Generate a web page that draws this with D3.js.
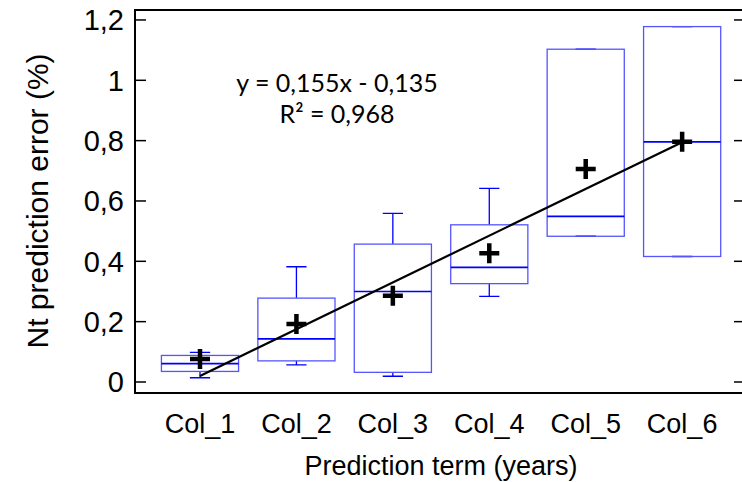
<!DOCTYPE html>
<html>
<head>
<meta charset="utf-8">
<script src="https://cdn.jsdelivr.net/npm/d3@7"></script>
<style>
  body { margin: 0; background: #fff; }
  #stage { width: 742px; height: 482px; }
</style>
</head>
<body>
<div id="stage"></div>
<script>
// data
const categories = ["Col_1", "Col_2", "Col_3", "Col_4", "Col_5", "Col_6"];
const whiskerLow = [0.014, 0.057, 0.019, 0.284, 0.483, 0.416];
const q1 = [0.035, 0.070, 0.032, 0.326, 0.483, 0.416];
const medians = [0.061, 0.143, 0.300, 0.380, 0.549, 0.796];
const q3 = [0.088, 0.278, 0.457, 0.521, 1.103, 1.178];
const whiskerHigh = [0.098, 0.382, 0.559, 0.642, 1.103, 1.178];
const means = [0.076, 0.192, 0.286, 0.427, 0.706, 0.796];
const yTicks = [0, 0.2, 0.4, 0.6, 0.8, 1, 1.2];
const yTickLabels = ["0", "0,2", "0,4", "0,6", "0,8", "1", "1,2"];
const trendSlope = 0.155;
const trendIntercept = -0.135;
const equationLines = ["y = 0,155x - 0,135", "R² = 0,968"];

const boxes = categories.map((c, i) => ({
  name: c,
  idx: i + 1,
  lo: whiskerLow[i],
  q1: q1[i],
  med: medians[i],
  q3: q3[i],
  hi: whiskerHigh[i],
  mean: means[i],
}));

const width = 742;
const height = 482;

const svg = d3
  .select("#stage")
  .append("svg")
  .attr("width", width)
  .attr("height", height);

const plotLeft = 135;
const plotRight = 745;
const plotTop = 10;
const plotBottom = 393;

const x = d3.scaleLinear().domain([0.326, 6.6]).range([plotLeft, 740]);
const y = d3.scaleLinear().domain([-0.0365, 1.233]).range([plotBottom, plotTop]);

const boxW = x(1.8) - x(1);
const capW = x(1.105) - x(1);

// frame
svg
  .append("rect")
  .attr("x", plotLeft)
  .attr("y", plotTop)
  .attr("width", plotRight - plotLeft)
  .attr("height", plotBottom - plotTop)
  .attr("fill", "none")
  .attr("stroke", "#000")
  .attr("stroke-width", 2);

// y ticks, inward on both sides
const tickLen = 11;
svg
  .selectAll(".ytick-l")
  .data(yTicks)
  .join("line")
  .attr("x1", plotLeft)
  .attr("x2", plotLeft + tickLen)
  .attr("y1", (d) => y(d))
  .attr("y2", (d) => y(d))
  .attr("stroke", "#000")
  .attr("stroke-width", 1.5);

svg
  .selectAll(".ytick-r")
  .data(yTicks)
  .join("line")
  .attr("x1", plotRight)
  .attr("x2", plotRight - tickLen)
  .attr("y1", (d) => y(d))
  .attr("y2", (d) => y(d))
  .attr("stroke", "#000")
  .attr("stroke-width", 1.5);

svg
  .selectAll(".ylab")
  .data(yTicks)
  .join("text")
  .attr("x", plotLeft - 11)
  .attr("y", (d) => y(d))
  .attr("dy", "0.36em")
  .attr("text-anchor", "end")
  .attr("font-family", "'Liberation Sans', Arial, sans-serif")
  .attr("font-size", "29px")
  .attr("fill", "#000")
  .text((d, i) => yTickLabels[i]);

svg
  .selectAll(".xlab")
  .data(boxes)
  .join("text")
  .attr("x", (d) => x(d.idx))
  .attr("y", 433)
  .attr("text-anchor", "middle")
  .attr("font-family", "'Liberation Sans', Arial, sans-serif")
  .attr("font-size", "27px")
  .attr("fill", "#000")
  .text((d) => d.name);

svg
  .append("text")
  .attr("x", (x(1) + x(6)) / 2)
  .attr("y", 475)
  .attr("text-anchor", "middle")
  .attr("font-family", "'Liberation Sans', Arial, sans-serif")
  .attr("font-size", "27px")
  .attr("fill", "#000")
  .text("Prediction term (years)");

svg
  .append("text")
  .attr("transform", `translate(48, ${(y(0) + y(1.2)) / 2}) rotate(-90)`)
  .attr("text-anchor", "middle")
  .attr("font-family", "'Liberation Sans', Arial, sans-serif")
  .attr("font-size", "30px")
  .attr("fill", "#000")
  .text("Nt prediction error (%)");

// box plots
const g = svg.append("g");

g.selectAll(".whisker")
  .data(boxes)
  .join("path")
  .attr("d", (d) =>
    `M${x(d.idx)},${y(d.q3)}V${y(d.hi)}M${x(d.idx)},${y(d.q1)}V${y(d.lo)}` +
    `M${x(d.idx) - capW},${y(d.hi)}H${x(d.idx) + capW}` +
    `M${x(d.idx) - capW},${y(d.lo)}H${x(d.idx) + capW}`
  )
  .attr("fill", "none")
  .attr("stroke", "#0000ff")
  .attr("stroke-width", 1.3);

g.selectAll(".box")
  .data(boxes)
  .join("rect")
  .attr("x", (d) => x(d.idx) - boxW / 2)
  .attr("y", (d) => y(d.q3))
  .attr("width", boxW)
  .attr("height", (d) => y(d.q1) - y(d.q3))
  .attr("fill", "none")
  .attr("stroke", "#5555ff")
  .attr("stroke-width", 1.3);

g.selectAll(".median")
  .data(boxes)
  .join("line")
  .attr("x1", (d) => x(d.idx) - boxW / 2)
  .attr("x2", (d) => x(d.idx) + boxW / 2)
  .attr("y1", (d) => y(d.med))
  .attr("y2", (d) => y(d.med))
  .attr("stroke", "#0000ff")
  .attr("stroke-width", 1.6);

// trend line
svg
  .append("line")
  .attr("x1", x(1))
  .attr("y1", y(trendSlope * 1 + trendIntercept))
  .attr("x2", x(6))
  .attr("y2", y(trendSlope * 6 + trendIntercept))
  .attr("stroke", "#000")
  .attr("stroke-width", 2.2);

// mean markers
svg
  .selectAll(".mean")
  .data(boxes)
  .join("path")
  .attr("d", (d) => {
    const cx = x(d.idx);
    const cy = y(d.mean);
    return `M${cx - 10},${cy}H${cx + 10}M${cx},${cy - 10}V${cy + 10}`;
  })
  .attr("stroke", "#000")
  .attr("stroke-width", 4.5);

// equation
svg
  .selectAll(".eq")
  .data(equationLines)
  .join("text")
  .attr("x", 337)
  .attr("y", (d, i) => 92 + i * 31)
  .attr("text-anchor", "middle")
  .attr("font-family", "Lato, 'Open Sans', sans-serif")
  .attr("font-size", "25px")
  .attr("fill", "#000")
  .text((d) => d);
</script>
</body>
</html>
